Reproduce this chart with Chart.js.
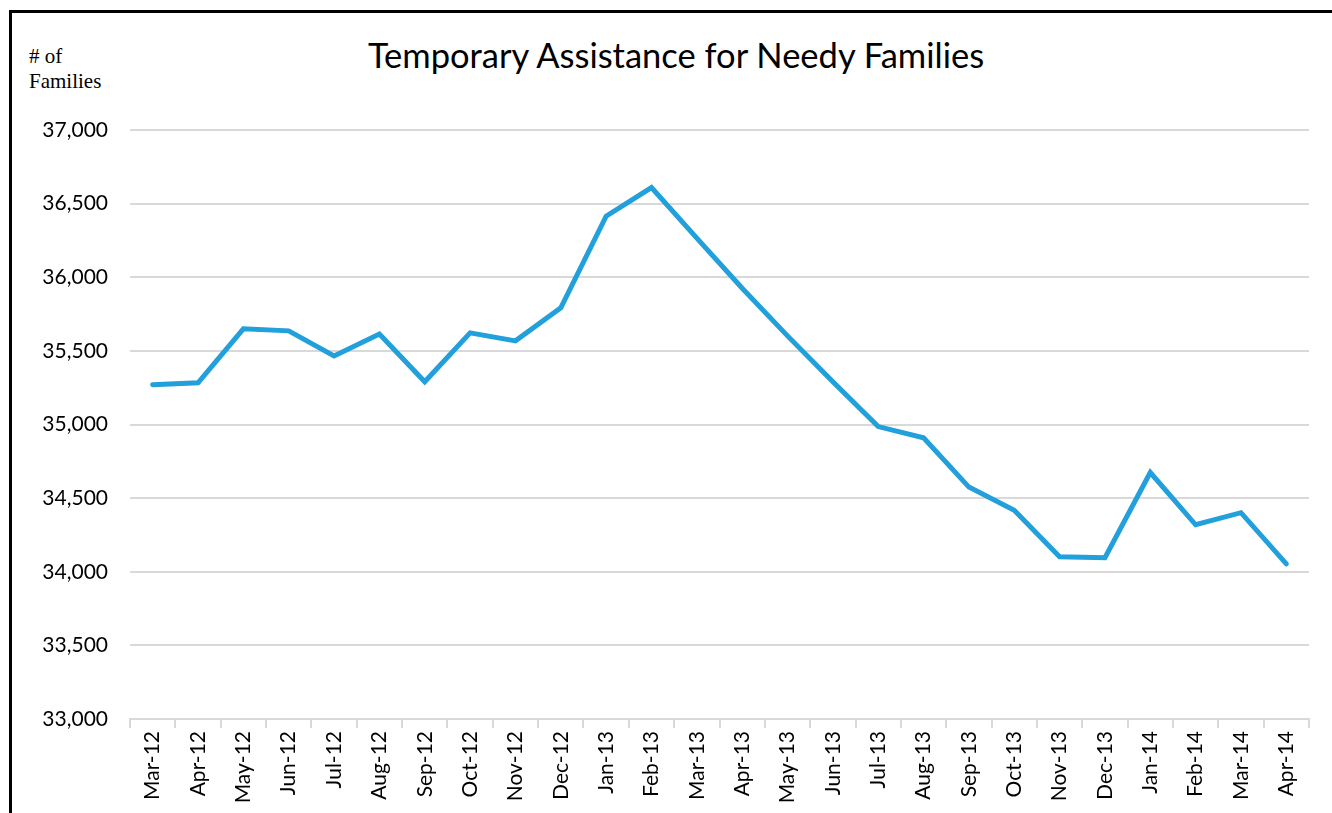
<!DOCTYPE html>
<html>
<head>
<meta charset="utf-8">
<script src="https://cdn.jsdelivr.net/npm/chart.js@4.4.1/dist/chart.umd.min.js"></script>
<style>
    html, body { margin: 0; padding: 0; background: #fff; }
    #wrap { position: relative; width: 1332px; height: 813px; overflow: hidden; }
    #frame { position: absolute; left: 9px; top: 10px; width: 1330px; height: 820px; border-top: 3px solid #000; border-left: 3px solid #000; }
    #title { position: absolute; left: 0; width: 1352px; top: 34px; text-align: center; font-family: Lato, sans-serif; font-size: 34.5px; color: #000; }
    #ylab { position: absolute; left: 29px; top: 44px; font-family: "Liberation Serif", serif; font-size: 21px; line-height: 25px; color: #000; }
    canvas { position: absolute; left: 0; top: 0; }
</style>
</head>
<body>
<div id="wrap">
    <div id="frame"></div>
    <div id="title">Temporary Assistance for Needy Families</div>
    <div id="ylab"># of<br>Families</div>
    <canvas id="tanfChart" width="1332" height="813"></canvas>
</div>
<script>
const months = ['Mar-12', 'Apr-12', 'May-12', 'Jun-12', 'Jul-12', 'Aug-12', 'Sep-12', 'Oct-12', 'Nov-12', 'Dec-12',
    'Jan-13', 'Feb-13', 'Mar-13', 'Apr-13', 'May-13', 'Jun-13', 'Jul-13', 'Aug-13', 'Sep-13', 'Oct-13', 'Nov-13', 'Dec-13',
    'Jan-14', 'Feb-14', 'Mar-14', 'Apr-14'];
const families = [35270, 35283, 35650, 35636, 35466, 35615, 35290, 35622, 35568, 35792,
    36415, 36609, 36266, 35925, 35602, 35290, 34986, 34910, 34575, 34418, 34102, 34095,
    34674, 34319, 34401, 34054];
const yMin = 33000;
const yMax = 37000;
const yStep = 500;

const ctx = document.getElementById('tanfChart').getContext('2d');
const chart = new Chart(ctx, {
    type: 'line',
    data: {
        labels: months,
        datasets: [
            { label: 'Families', data: families, borderColor: '#21a0db', borderWidth: 5, pointRadius: 0, tension: 0, fill: false, borderJoinStyle: 'miter', borderCapStyle: 'round' }
        ]
    },
    options: {
        responsive: false,
        animation: false,
        layout: { padding: { left: 0, right: 23, top: 130, bottom: 0 } },
        plugins: { legend: { display: false }, tooltip: { enabled: false } },
        scales: {
            x: {
                offset: true,
                afterFit: (s) => { s.height = 94; },
                grid: { offset: true, drawOnChartArea: false, drawTicks: true, tickLength: 9, color: '#d9d9d9', lineWidth: 2 },
                border: { color: '#d9d9d9', width: 2 },
                ticks: { color: '#000', font: { family: 'Lato', size: 21 }, maxRotation: 90, minRotation: 90, autoSkip: false, padding: 3 }
            },
            y: {
                min: yMin,
                max: yMax,
                afterFit: (s) => { s.width = 130; },
                grid: { color: '#d9d9d9', lineWidth: 2, drawTicks: false },
                border: { display: false },
                ticks: {
                    stepSize: yStep,
                    color: '#000',
                    padding: 22,
                    font: { family: 'Lato', size: 21 },
                    callback: (v) => v.toLocaleString('en-US')
                }
            }
        }
    }
});
</script>
</body>
</html>
